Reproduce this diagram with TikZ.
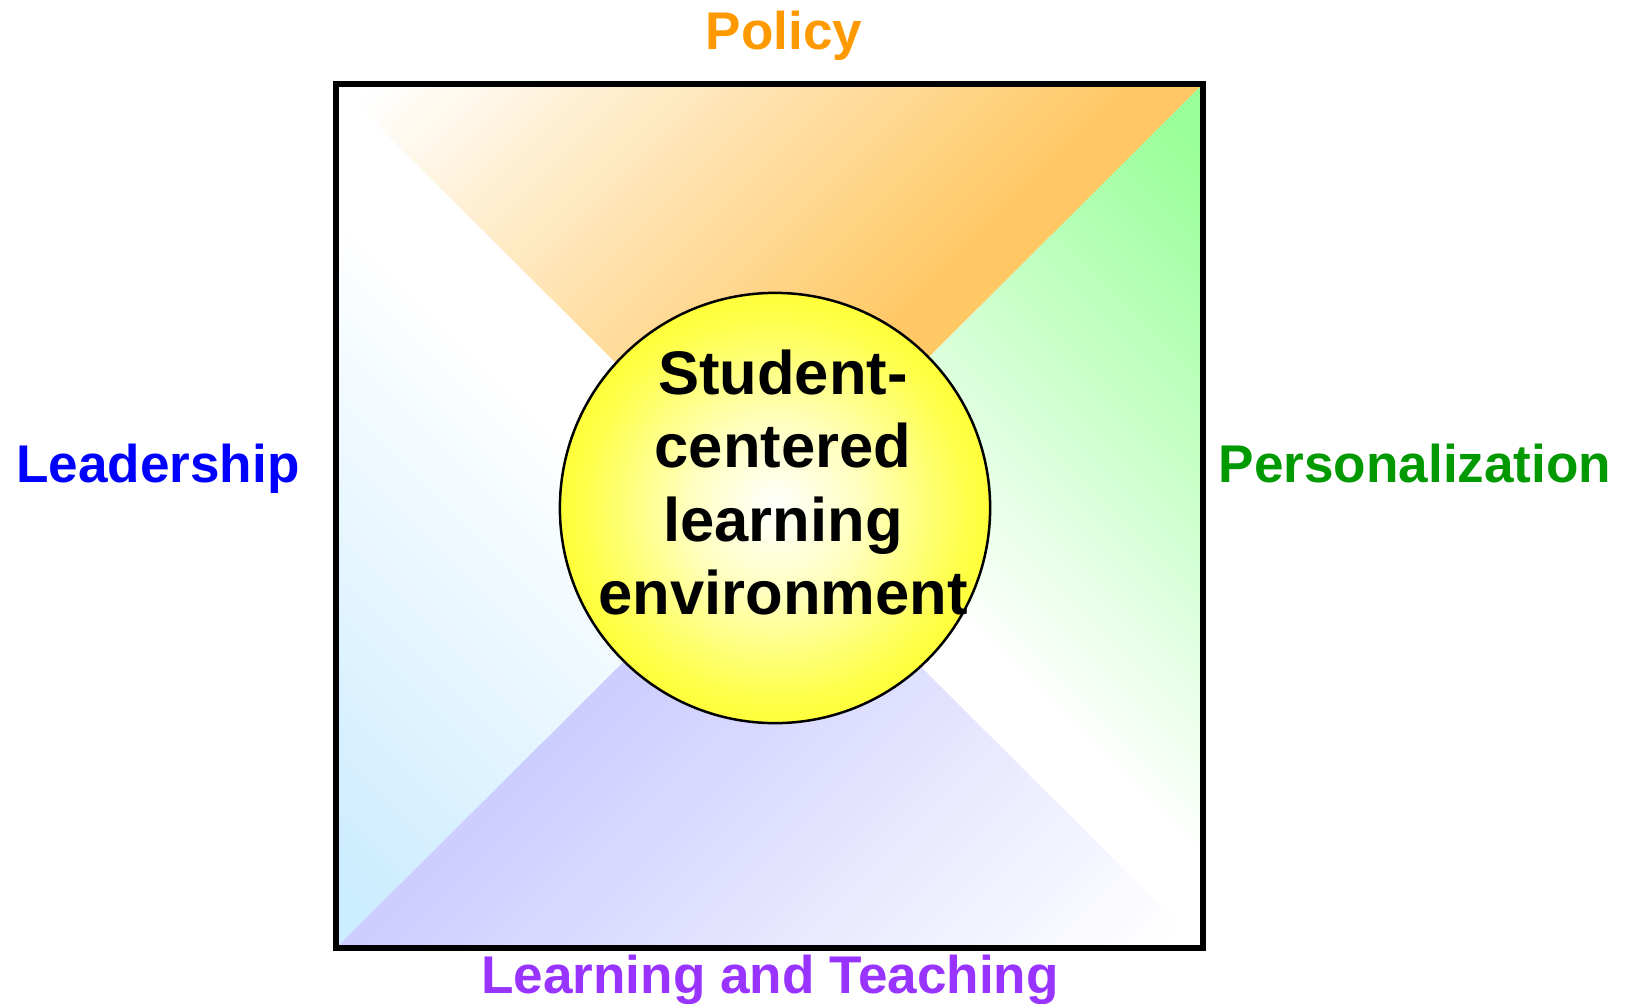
\documentclass[tikz,border=0pt]{standalone}
\usepackage{fontspec}
\setmainfont{Liberation Sans}
\usetikzlibrary{calc, positioning}

\definecolor{policytext}{HTML}{FF9900}
\definecolor{policyfill}{HTML}{FFC864}
\definecolor{persontext}{HTML}{009900}
\definecolor{personfill}{HTML}{99FF99}
\definecolor{leadtext}{HTML}{0000FF}
\definecolor{leadfill}{HTML}{CCECFF}
\definecolor{teachtext}{HTML}{9933FF}
\definecolor{teachfill}{HTML}{CCCCFF}

\pgfdeclareradialshading{envglow}{\pgfpoint{0bp}{0bp}}{color(0bp)=(white); color(10bp)=(yellow!25!white); color(22bp)=(yellow!70!white); color(34bp)=(yellow); color(50bp)=(yellow)}

\begin{document}
\begin{tikzpicture}[x=0.01cm, y=0.01cm,
    side-label/.style={anchor=base, font=\fontsize{15.1}{18}\selectfont\bfseries},
    env-ball/.style={circle, draw, line width=0.025cm, shade, shading=envglow, inner sep=0, minimum size=4.3cm},
    env-text/.style={align=center, inner sep=0, font=\fontsize{17.5}{20.9}\selectfont\bfseries},
  ]
  \useasboundingbox (0, 0) rectangle (1625, -1003);

  \coordinate (box-tl) at (336,  -84);
  \coordinate (box-tr) at (1203, -84);
  \coordinate (box-br) at (1203, -948);
  \coordinate (box-bl) at (336,  -948);
  \coordinate (box-mid) at ($(box-tl)!0.5!(box-br)$);

  % draw quarters: white fading to colour along a diagonal, in thin bands
  \foreach \cornera/\cornerb/\ang/\tzero/\tone/\col in {
      box-tl/box-tr/-45/-580/-40/policyfill,
      box-tr/box-br/45/60/560/personfill,
      box-br/box-bl/135/-580/0/teachfill,
      box-bl/box-tl/-135/90/560/leadfill} {
    \begin{scope}
      \clip (\cornera) to (\cornerb) to (box-mid) -- cycle;
      \begin{scope}[shift={(box-mid)}, rotate=\ang]
        \fill[\col] (\tone, -800) rectangle (800, 800);
        \foreach \k in {0, ..., 59} {
          \pgfmathsetmacro{\ta}{\tzero + (\tone - \tzero)/60*\k}
          \pgfmathsetmacro{\tb}{\tzero + (\tone - \tzero)/60*(\k + 1) + 1}
          \pgfmathsetmacro{\pct}{(\k + 0.5)/60*100}
          \fill[\col!\pct!white] (\ta, -800) rectangle (\tb, 800);
        }
      \end{scope}
    \end{scope}
  }

  \draw[line width=0.06cm] (box-tl) rectangle (box-br);

  % draw centre
  \node[env-ball] (env) at (775, -508) {};
  \node[env-text, anchor=north] (env-label) at (783, -349) {Student-\\centered\\learning\\environment};

  % side labels
  \node[side-label, text=policytext]  (policy)  at (784,  -49)  {Policy};
  \node[side-label, text=leadtext]    (lead)    at (158,  -482) {Leadership};
  \node[side-label, text=persontext]  (person)  at (1415, -482) {Personalization};
  \node[side-label, text=teachtext]   (teach)   at (770,  -993) {Learning and Teaching};

\end{tikzpicture}
\end{document}
